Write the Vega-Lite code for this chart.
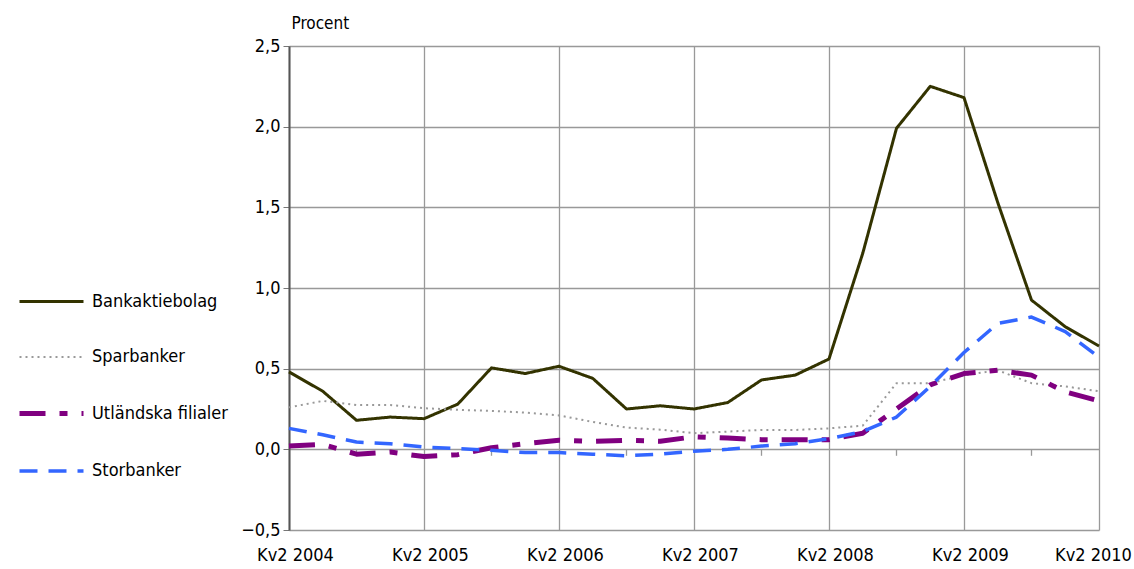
{
  "$schema": "https://vega.github.io/schema/vega-lite/v6.json",
  "autosize": "none",
  "width": 810,
  "height": 484,
  "padding": {"left": 289, "top": 46, "right": 35, "bottom": 39},
  "background": "white",
  "config": {
    "locale": {"number": {"decimal": ",", "thousands": " ", "grouping": [3], "currency": ["", " kr"], "minus": "−"}},
    "font": "DejaVu Sans Condensed, DejaVu Sans, sans-serif",
    "view": {"stroke": null},
    "axis": {"labelFont": "DejaVu Sans Condensed, DejaVu Sans, sans-serif", "labelColor": "#000", "labelFontSize": 18, "gridColor": "#999", "gridWidth": 1.3, "gridOpacity": 1}
  },
  "datasets": {
    "serier": [
      {"q": "Kv2 2004", "Bankaktiebolag": 0.48, "Sparbanker": 0.26, "Utländska filialer": 0.02, "Storbanker": 0.13},
      {"q": "Kv3 2004", "Bankaktiebolag": 0.36, "Sparbanker": 0.30, "Utländska filialer": 0.03, "Storbanker": 0.09},
      {"q": "Kv4 2004", "Bankaktiebolag": 0.18, "Sparbanker": 0.275, "Utländska filialer": -0.03, "Storbanker": 0.045},
      {"q": "Kv1 2005", "Bankaktiebolag": 0.20, "Sparbanker": 0.275, "Utländska filialer": -0.017, "Storbanker": 0.035},
      {"q": "Kv2 2005", "Bankaktiebolag": 0.19, "Sparbanker": 0.255, "Utländska filialer": -0.045, "Storbanker": 0.014},
      {"q": "Kv3 2005", "Bankaktiebolag": 0.28, "Sparbanker": 0.245, "Utländska filialer": -0.033, "Storbanker": 0.004},
      {"q": "Kv4 2005", "Bankaktiebolag": 0.505, "Sparbanker": 0.238, "Utländska filialer": 0.01, "Storbanker": -0.006},
      {"q": "Kv1 2006", "Bankaktiebolag": 0.47, "Sparbanker": 0.228, "Utländska filialer": 0.035, "Storbanker": -0.02},
      {"q": "Kv2 2006", "Bankaktiebolag": 0.515, "Sparbanker": 0.21, "Utländska filialer": 0.056, "Storbanker": -0.02},
      {"q": "Kv3 2006", "Bankaktiebolag": 0.44, "Sparbanker": 0.17, "Utländska filialer": 0.05, "Storbanker": -0.03},
      {"q": "Kv4 2006", "Bankaktiebolag": 0.25, "Sparbanker": 0.135, "Utländska filialer": 0.056, "Storbanker": -0.04},
      {"q": "Kv1 2007", "Bankaktiebolag": 0.27, "Sparbanker": 0.122, "Utländska filialer": 0.05, "Storbanker": -0.03},
      {"q": "Kv2 2007", "Bankaktiebolag": 0.25, "Sparbanker": 0.10, "Utländska filialer": 0.078, "Storbanker": -0.012},
      {"q": "Kv3 2007", "Bankaktiebolag": 0.29, "Sparbanker": 0.11, "Utländska filialer": 0.07, "Storbanker": 0.0},
      {"q": "Kv4 2007", "Bankaktiebolag": 0.43, "Sparbanker": 0.12, "Utländska filialer": 0.06, "Storbanker": 0.02},
      {"q": "Kv1 2008", "Bankaktiebolag": 0.46, "Sparbanker": 0.12, "Utländska filialer": 0.06, "Storbanker": 0.035},
      {"q": "Kv2 2008", "Bankaktiebolag": 0.56, "Sparbanker": 0.13, "Utländska filialer": 0.06, "Storbanker": 0.066},
      {"q": "Kv3 2008", "Bankaktiebolag": 1.215, "Sparbanker": 0.147, "Utländska filialer": 0.1, "Storbanker": 0.11},
      {"q": "Kv4 2008", "Bankaktiebolag": 1.99, "Sparbanker": 0.41, "Utländska filialer": 0.25, "Storbanker": 0.20},
      {"q": "Kv1 2009", "Bankaktiebolag": 2.25, "Sparbanker": 0.41, "Utländska filialer": 0.40, "Storbanker": 0.39},
      {"q": "Kv2 2009", "Bankaktiebolag": 2.18, "Sparbanker": 0.46, "Utländska filialer": 0.47, "Storbanker": 0.60},
      {"q": "Kv3 2009", "Bankaktiebolag": 1.53, "Sparbanker": 0.49, "Utländska filialer": 0.49, "Storbanker": 0.78},
      {"q": "Kv4 2009", "Bankaktiebolag": 0.925, "Sparbanker": 0.41, "Utländska filialer": 0.46, "Storbanker": 0.82},
      {"q": "Kv1 2010", "Bankaktiebolag": 0.76, "Sparbanker": 0.39, "Utländska filialer": 0.356, "Storbanker": 0.73},
      {"q": "Kv2 2010", "Bankaktiebolag": 0.64, "Sparbanker": 0.36, "Utländska filialer": 0.30, "Storbanker": 0.57}
    ],
    "kv4": [
      {"q": "Kv4 2004"}, {"q": "Kv4 2005"}, {"q": "Kv4 2006"}, {"q": "Kv4 2007"}, {"q": "Kv4 2008"}, {"q": "Kv4 2009"}
    ]
  },
  "encoding": {
    "x": {
      "field": "q",
      "type": "ordinal",
      "scale": {
        "type": "point",
        "padding": 0,
        "domain": ["Kv2 2004","Kv3 2004","Kv4 2004","Kv1 2005","Kv2 2005","Kv3 2005","Kv4 2005","Kv1 2006","Kv2 2006","Kv3 2006","Kv4 2006","Kv1 2007","Kv2 2007","Kv3 2007","Kv4 2007","Kv1 2008","Kv2 2008","Kv3 2008","Kv4 2008","Kv1 2009","Kv2 2009","Kv3 2009","Kv4 2009","Kv1 2010","Kv2 2010"]
      },
      "axis": {
        "title": null,
        "values": ["Kv2 2004","Kv2 2005","Kv2 2006","Kv2 2007","Kv2 2008","Kv2 2009","Kv2 2010"],
        "labelAngle": 0,
        "labelPadding": 16,
        "labelOffset": {"condition": {"test": "datum.value == 'Kv2 2010'", "value": -6}, "value": 6},
        "ticks": false,
        "domain": false,
        "grid": true,
        "labelOverlap": false
      }
    }
  },
  "layer": [
    {
      "data": {"name": "kv4"},
      "mark": {"type": "rule", "color": "#999", "strokeWidth": 1.3},
      "encoding": {
        "y": {"datum": 0, "type": "quantitative"},
        "y2": {"datum": -0.04}
      }
    },
    {
      "data": {"name": "serier"},
      "transform": [
        {"fold": ["Bankaktiebolag", "Sparbanker", "Utländska filialer", "Storbanker"], "as": ["serie", "v"]}
      ],
      "mark": {"type": "line", "strokeCap": "butt", "strokeJoin": "round"},
      "encoding": {
        "y": {
          "field": "v",
          "type": "quantitative",
          "scale": {"domain": [-0.5, 2.5], "nice": false, "zero": false},
          "axis": {
            "title": "Procent",
            "titleAngle": 0,
            "titleX": 2,
            "titleY": -14,
            "titleAlign": "left",
            "titleBaseline": "bottom",
            "titleFont": "DejaVu Sans Condensed, DejaVu Sans, sans-serif",
            "titleFontSize": 17,
            "titleFontWeight": "normal",
            "titleColor": "#000",
            "values": [-0.5, 0, 0.5, 1, 1.5, 2, 2.5],
            "format": ".1f",
            "grid": true,
            "domainColor": "#555",
            "domainWidth": 2,
            "tickColor": "#777",
            "tickSize": 6,
            "labelPadding": 3
          }
        },
        "color": {
          "field": "serie",
          "type": "nominal",
          "scale": {
            "domain": ["Bankaktiebolag", "Sparbanker", "Utländska filialer", "Storbanker"],
            "range": ["#333300", "#999999", "#800080", "#3366ff"]
          },
          "legend": {
            "title": null,
            "orient": "none",
            "legendX": -272,
            "legendY": 222,
            "symbolType": "stroke",
            "symbolSize": 4096,
            "labelFontSize": 18,
            "labelColor": "#000",
            "labelFont": "DejaVu Sans Condensed, DejaVu Sans, sans-serif",
            "rowPadding": 13,
            "labelOffset": 6
          }
        },
        "strokeDash": {
          "field": "serie",
          "type": "nominal",
          "scale": {
            "domain": ["Bankaktiebolag", "Sparbanker", "Utländska filialer", "Storbanker"],
            "range": [[1, 0], [2, 4], [26, 14, 8, 14], [18, 11]]
          },
          "legend": null
        },
        "strokeWidth": {
          "field": "serie",
          "type": "ordinal",
          "scale": {
            "type": "ordinal",
            "domain": ["Bankaktiebolag", "Sparbanker", "Utländska filialer", "Storbanker"],
            "range": [3, 2, 5, 3.5]
          },
          "legend": null
        }
      }
    }
  ]
}
